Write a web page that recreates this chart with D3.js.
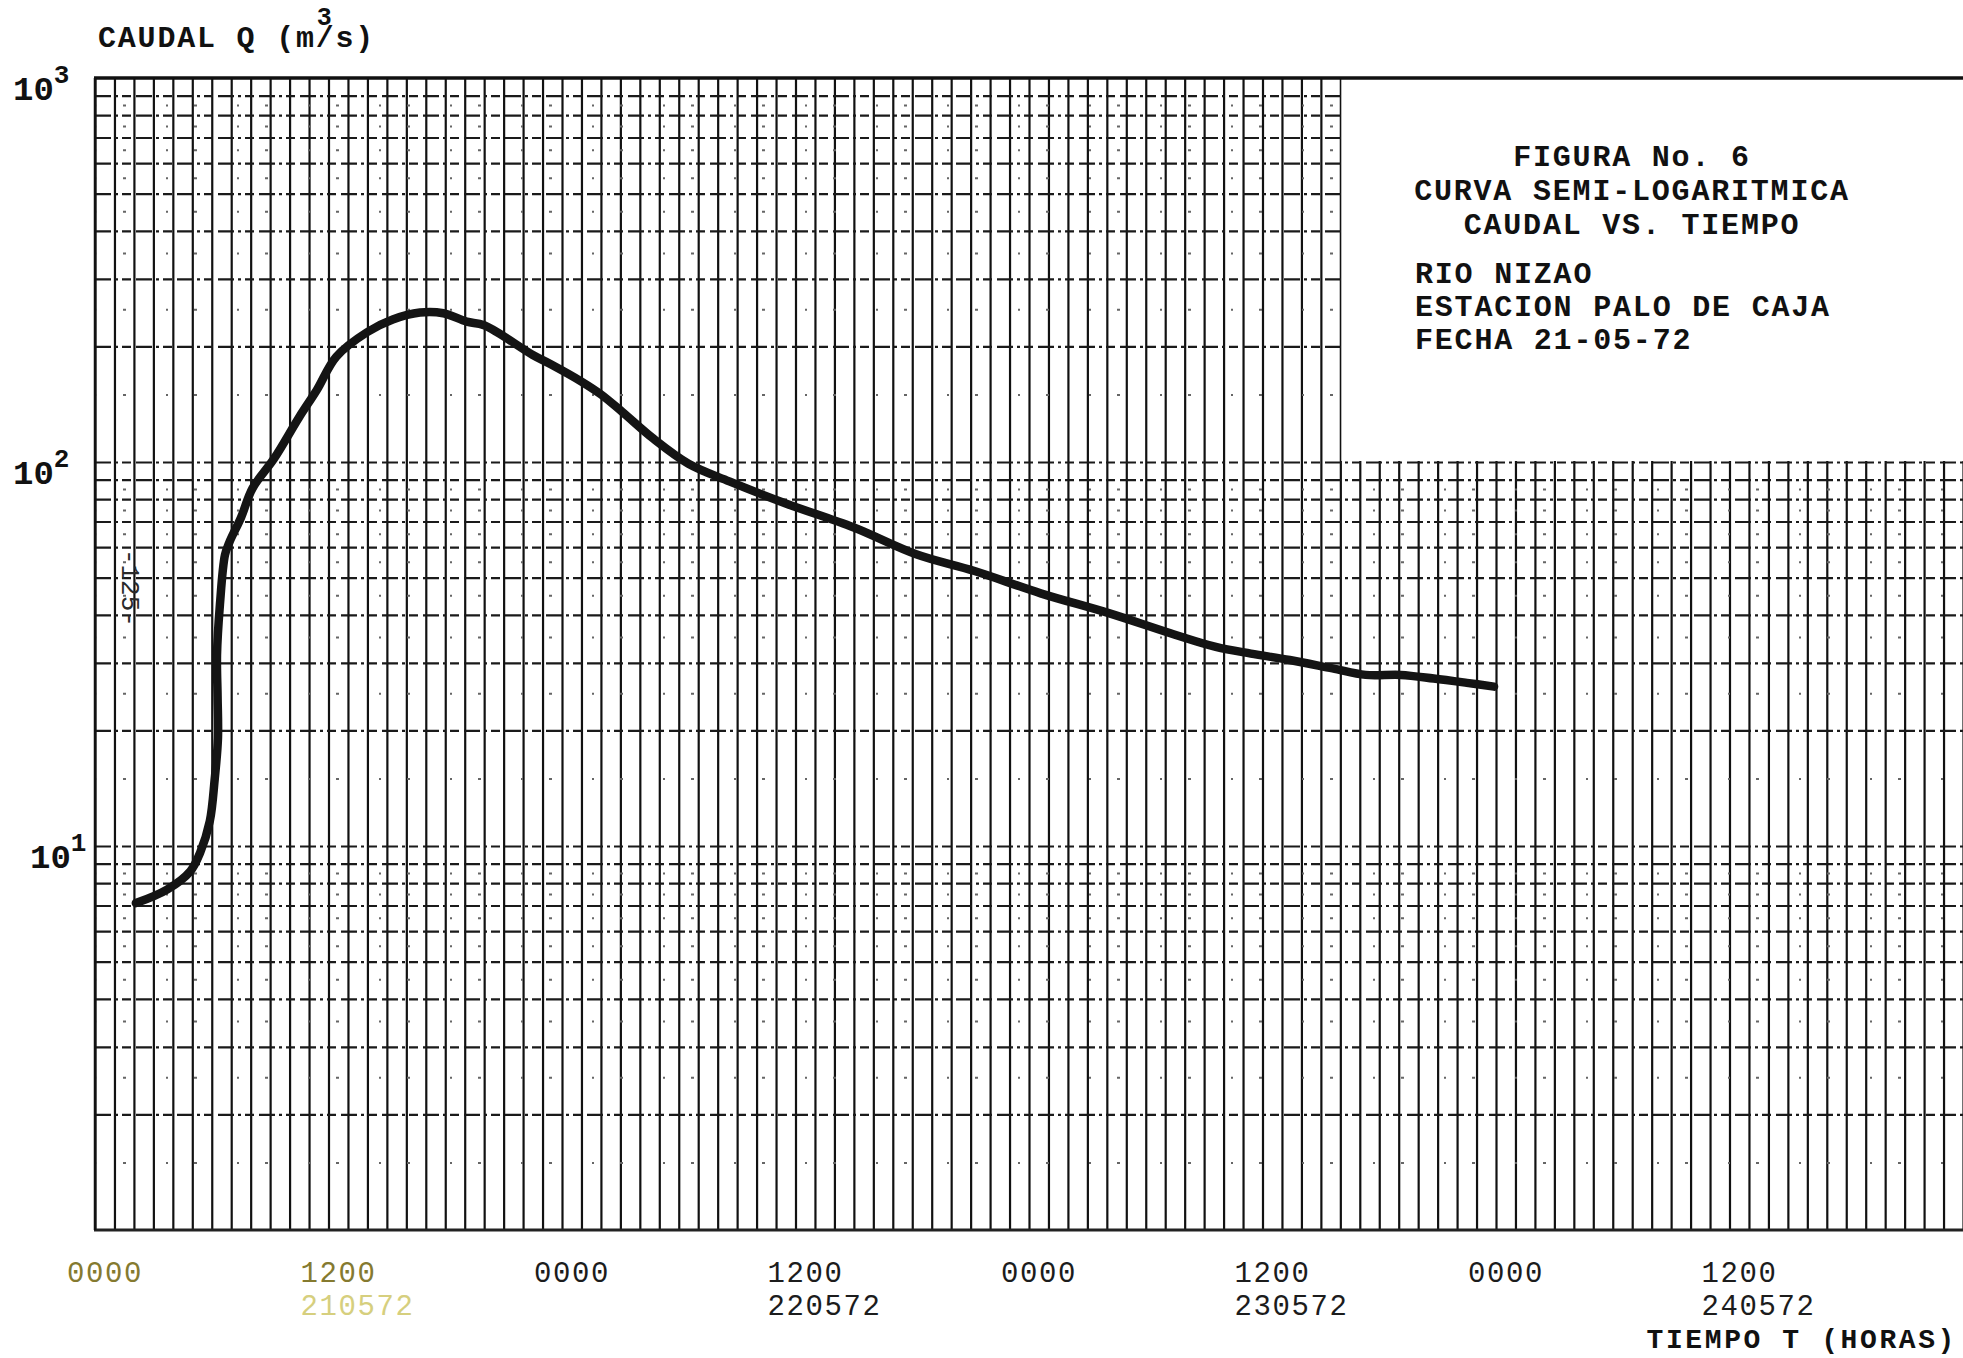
<!DOCTYPE html>
<html>
<head>
<meta charset="utf-8">
<script src="https://cdn.jsdelivr.net/npm/d3@7"></script>
<style>
  body { margin: 0; background: #fff; }
  svg { display: block; }
</style>
</head>
<body>
<div id="chart"></div>
<script>
// Hydrograph, hours counted from 0000 of 21-05-72, caudal in m3/s
const hours = [2.1, 3.7, 4.9, 5.4, 5.9, 6.15, 6.32, 6.3, 6.27, 6.42, 6.68, 6.9, 7.5, 8.1, 9.2,
  10.5, 11.4, 12.4, 14.0, 15.3, 16.7, 17.9, 19.1, 20.0, 22.5, 23.4, 25.0, 26.0, 27.1, 28.7,
  30.5, 32.6, 35.5, 39.0, 42.2, 45.2, 48.6, 52.1, 55.5, 57.6, 59.4, 61.4, 63.6, 65.3,
  67.1, 68.8, 70.5, 71.9]
const caudal = [7.1, 7.7, 8.6, 9.6, 11.6, 14.9, 19.1, 24.5, 31.4, 42.5, 57.3, 61.7, 71.6, 85.5, 102,
  131, 154, 188, 218, 235, 245, 244, 232, 227, 190, 180, 162, 150, 135, 115,
  99, 89, 78, 67.5, 57.5, 52, 45.5, 40.4, 35.5, 33, 31.7, 30.5, 29, 27.9,
  27.9, 27.3, 26.6, 26]

// Time axis labels
const tickHours = [0, 12, 24, 36, 48, 60, 72, 84]
const tickTimes = ['0000', '1200', '0000', '1200', '0000', '1200', '0000', '1200']
const tickDates = ['', '210572', '', '220572', '', '230572', '', '240572']

// Log axis labels
const decadeValues = [1000, 100, 10]
const decadeExponents = ['3', '2', '1']

// Text block
const titleLines = ['FIGURA No. 6', 'CURVA SEMI-LOGARITMICA', 'CAUDAL VS. TIEMPO']
const infoLines = ['RIO NIZAO', 'ESTACION PALO DE CAJA', 'FECHA 21-05-72']

const typeFont = '"Liberation Mono", "Courier New", monospace'
const width = 1963
const height = 1358
const margin = { top: 78, right: 0, bottom: 128, left: 95 }

const x = d3.scaleLinear().domain([0, 96]).range([margin.left, width - margin.right])
const y = d3.scaleLog().domain([1, 1000]).range([height - margin.bottom, margin.top])

// grid values of the log paper
const majorLines = []
const minorLines = []
;[1, 10, 100].forEach(d => {
  for (let k = 1; k <= 9; k++) {
    if (k > 1 || d > 1) majorLines.push(k * d)
    if (k < 9) minorLines.push((k + 0.5) * d)
  }
})

const svg = d3.select('#chart')
  .append('svg')
    .attr('width', width)
    .attr('height', height)

svg.append('rect')
  .attr('width', width)
  .attr('height', height)
  .attr('fill', '#fff')

// Vertical hour lines
svg.append('g')
    .attr('transform', `translate(0,${y(1)})`)
    .call(d3.axisBottom(x)
      .tickValues(d3.range(0, 97))
      .tickSize(-(y(1) - y(1000)))
      .tickFormat(''))
    .call(g => g.select('.domain').remove())
    .call(g => g.selectAll('line')
      .attr('stroke', '#111')
      .attr('stroke-width', 2.2))

// Horizontal log lines
svg.append('g')
    .attr('transform', `translate(${x(0)},0)`)
    .call(d3.axisLeft(y)
      .tickValues(minorLines)
      .tickSize(-(x(96) - x(0)))
      .tickFormat(''))
    .call(g => g.select('.domain').remove())
    .call(g => g.selectAll('line')
      .attr('stroke', '#666')
      .attr('stroke-width', 2)
      .attr('stroke-dasharray', '2,26,3,40'))

svg.append('g')
    .attr('transform', `translate(${x(0)},0)`)
    .call(d3.axisLeft(y)
      .tickValues(majorLines)
      .tickSize(-(x(96) - x(0)))
      .tickFormat(''))
    .call(g => g.select('.domain').remove())
    .call(g => g.selectAll('line')
      .attr('stroke', '#1a1a1a')
      .attr('stroke-width', 2.2)
      .attr('stroke-dasharray', '16,4,3,4,9,5'))

// White text box in the upper right corner
const boxLeft = x(64) + 1
svg.append('rect')
  .attr('x', boxLeft)
  .attr('y', y(1000))
  .attr('width', width - boxLeft)
  .attr('height', y(100) - y(1000) - 1)
  .attr('fill', '#fff')

// Frame
svg.append('line')
  .attr('x1', x(0) - 1).attr('x2', x(96))
  .attr('y1', y(1000)).attr('y2', y(1000))
  .attr('stroke', '#111').attr('stroke-width', 3.5)
svg.append('line')
  .attr('x1', x(0) - 1).attr('x2', x(96))
  .attr('y1', y(1)).attr('y2', y(1))
  .attr('stroke', '#222').attr('stroke-width', 3)
svg.append('line')
  .attr('x1', x(0)).attr('x2', x(0))
  .attr('y1', y(1000)).attr('y2', y(1))
  .attr('stroke', '#111').attr('stroke-width', 2.5)

// Hydrograph curve
const line = d3.line()
  .x((d, i) => x(hours[i]))
  .y(d => y(d))
  .curve(d3.curveCatmullRom.alpha(0.5))

svg.append('path')
  .datum(caudal)
  .attr('d', line)
  .attr('fill', 'none')
  .attr('stroke', '#141414')
  .attr('stroke-width', 8.5)
  .attr('stroke-linecap', 'round')
  .attr('stroke-linejoin', 'round')

// Y axis title, the exponent typed over the slash
const yTitle = svg.append('text')
  .attr('x', 98)
  .attr('y', 47)
  .attr('font-family', typeFont)
  .attr('font-weight', 'bold')
  .attr('font-size', 30)
  .attr('letter-spacing', 1.8)
  .attr('fill', '#111')
yTitle.append('tspan').text('CAUDAL Q (m')
yTitle.append('tspan')
  .attr('dx', 1)
  .attr('dy', -22)
  .attr('font-size', 25)
  .text('3')
yTitle.append('tspan')
  .attr('dx', -18)
  .attr('dy', 22)
  .text('/s)')

// Decade labels
decadeValues.forEach((v, i) => {
  const t = svg.append('text')
    .attr('x', v === 10 ? 30 : 13)
    .attr('y', y(v) + 22)
    .attr('font-family', typeFont)
    .attr('font-weight', 'bold')
    .attr('font-size', 34)
    .attr('fill', '#111')
  t.append('tspan').text('10')
  t.append('tspan')
    .attr('dy', -17)
    .attr('font-size', 26)
    .text(decadeExponents[i])
})

// Page number typed along the left edge
svg.append('text')
  .attr('transform', `translate(${x(0) + 27},${y(47)}) rotate(90)`)
  .attr('text-anchor', 'middle')
  .attr('font-family', typeFont)
  .attr('font-size', 26)
  .attr('fill', '#2a2a2a')
  .text('-125-')

// Time labels, hour on the first line and date under the noon ticks
tickHours.forEach((h, i) => {
  const faded = i < 2
  const t = svg.append('text')
    .attr('x', x(h) - 28)
    .attr('y', y(1) + 52)
    .attr('font-family', typeFont)
    .attr('font-size', 29)
    .attr('letter-spacing', 1.6)
    .attr('fill', faded ? '#857a30' : '#1c1c1c')
  t.append('tspan').text(tickTimes[i])
  if (tickDates[i]) {
    t.append('tspan')
      .attr('x', x(h) - 28)
      .attr('dy', 33)
      .attr('fill', faded ? '#d6cf7e' : '#1c1c1c')
      .text(tickDates[i])
  }
})

svg.append('text')
  .attr('x', width - 6)
  .attr('y', 1348)
  .attr('text-anchor', 'end')
  .attr('font-family', typeFont)
  .attr('font-weight', 'bold')
  .attr('font-size', 28)
  .attr('letter-spacing', 2.6)
  .attr('fill', '#111')
  .text('TIEMPO T (HORAS)')

// Title block
const boxText = svg.append('g')
  .attr('font-family', typeFont)
  .attr('font-weight', 'bold')
  .attr('font-size', 30)
  .attr('letter-spacing', 1.8)
  .attr('fill', '#111')
titleLines.forEach((s, i) => {
  boxText.append('text')
    .attr('x', 1632)
    .attr('y', 166 + i * 34)
    .attr('text-anchor', 'middle')
    .text(s)
})
infoLines.forEach((s, i) => {
  boxText.append('text')
    .attr('x', 1415)
    .attr('y', 283 + i * 33)
    .text(s)
})
</script>
</body>
</html>
